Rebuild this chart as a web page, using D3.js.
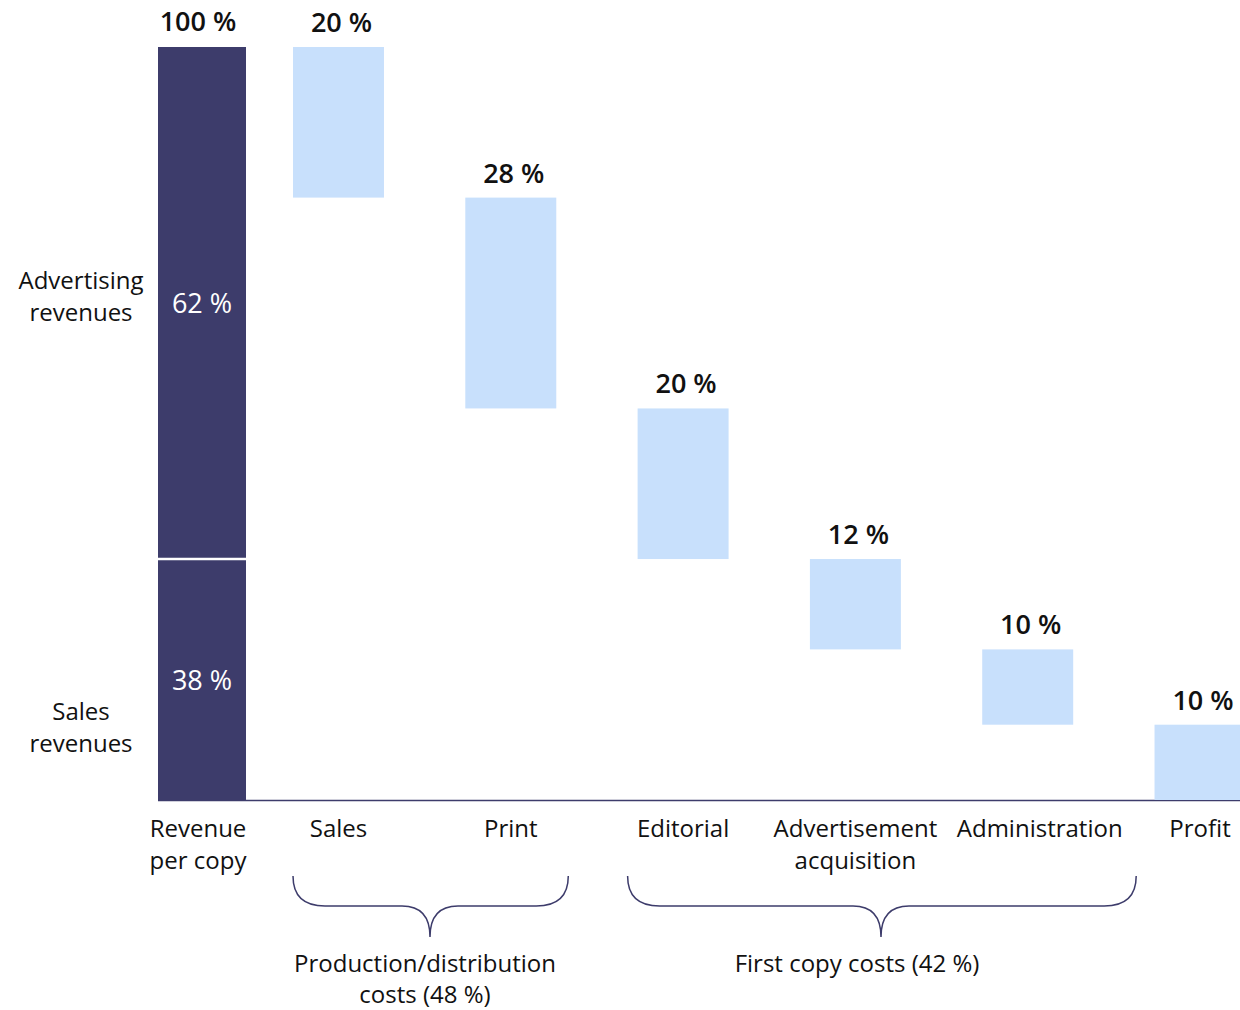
<!DOCTYPE html>
<html>
<head>
<meta charset="utf-8">
<script src="https://cdn.jsdelivr.net/npm/d3@7"></script>
<style>
  html, body { margin: 0; padding: 0; background: #fff; }
  svg { display: block; font-family: "Open Sans", "Noto Sans", sans-serif; }
</style>
</head>
<body>
<svg id="chart" width="1240" height="1010"></svg>
<script>
// ---- data ----
const revenueCategory = "Revenue per copy";
const revenueCategoryLines = ["Revenue", "per copy"];
const revenueTotal = 100;
const revenueTotalLabel = "100 %";
const revenueSegments = ["Sales revenues", "Advertising revenues"];
const revenueSegmentValues = [32, 68];          // heights as drawn in the picture
const revenueSegmentLabels = ["38 %", "62 %"];  // labels as printed
const revenueSegmentNameLines = [["Sales", "revenues"], ["Advertising", "revenues"]];

const categories = ["Sales", "Print", "Editorial", "Advertisement acquisition", "Administration", "Profit"];
const categoryLines = [["Sales"], ["Print"], ["Editorial"], ["Advertisement", "acquisition"], ["Administration"], ["Profit"]];
const values = [20, 28, 20, 12, 10, 10];
const valueLabels = ["20 %", "28 %", "20 %", "12 %", "10 %", "10 %"];

const groupNames = ["Production/distribution costs (48 %)", "First copy costs (42 %)"];
const groupLines = [["Production/distribution", "costs (48 %)"], ["First copy costs (42 %)"]];
const groupFrom = ["Sales", "Editorial"];
const groupTo = ["Print", "Administration"];

// ---- styles ----
const DARK = "#3d3c6b";
const LIGHT = "#c8e0fc";

const svg = d3.select("#chart");

const y = d3.scaleLinear().domain([0, 100]).range([800, 47]);
const xRev = d3.scaleBand().domain([revenueCategory]).range([158, 246]).padding(0);
const x = d3.scaleBand().domain(categories).range([293, 1245.5]).paddingInner(0.472).paddingOuter(0);
const bw = x.bandwidth();

// waterfall computation
let running = revenueTotal;
const bars = categories.map((c, i) => {
  let top, bottom;
  if (i === categories.length - 1) { top = values[i]; bottom = 0; }
  else { top = running; bottom = running - values[i]; running = bottom; }
  return { cat: c, top, bottom, label: valueLabels[i], lines: categoryLines[i] };
});

// axis baseline
svg.append("line")
  .attr("x1", 158).attr("x2", 1240)
  .attr("y1", y(0) + 0.5).attr("y2", y(0) + 0.5)
  .attr("stroke", DARK).attr("stroke-width", 1.5);

// revenue stacked bar
let acc = 0;
const segs = revenueSegmentValues.map((v, i) => {
  const s = { y0: acc, y1: acc + v, label: revenueSegmentLabels[i], names: revenueSegmentNameLines[i] };
  acc += v;
  return s;
});
svg.selectAll("rect.rev").data(segs).join("rect")
  .attr("class", "rev")
  .attr("x", xRev(revenueCategory))
  .attr("width", xRev.bandwidth())
  .attr("y", d => y(d.y1))
  .attr("height", d => y(d.y0) - y(d.y1))
  .attr("fill", DARK);
// white separator
svg.append("line")
  .attr("x1", xRev(revenueCategory)).attr("x2", xRev(revenueCategory) + xRev.bandwidth())
  .attr("y1", y(segs[0].y1)).attr("y2", y(segs[0].y1))
  .attr("stroke", "#fff").attr("stroke-width", 2.5);

// segment labels inside
svg.selectAll("text.seglab").data(segs).join("text")
  .attr("class", "seglab")
  .attr("x", xRev(revenueCategory) + xRev.bandwidth() / 2)
  .attr("y", d => (y(d.y0) + y(d.y1)) / 2 + 10)
  .attr("text-anchor", "middle")
  .attr("fill", "#fff")
  .attr("font-size", 27)
  .text(d => d.label);

// segment names on the left
const nameOffsets = [40, -14];
segs.forEach((d, i) => {
  const cy = (y(d.y0) + y(d.y1)) / 2 + nameOffsets[i];
  const t = svg.append("text")
    .attr("x", 81).attr("text-anchor", "middle")
    .attr("font-size", 24).attr("fill", "#111");
  d.names.forEach((ln, j) => {
    t.append("tspan").attr("x", 81).attr("y", cy + j * 32).text(ln);
  });
});

// revenue total label
svg.append("text")
  .attr("x", xRev(revenueCategory) + xRev.bandwidth() / 2 - 4)
  .attr("y", y(revenueTotal) - 16)
  .attr("text-anchor", "middle")
  .attr("font-size", 27).attr("font-weight", 600).attr("fill", "#111")
  .text(revenueTotalLabel);

// revenue category label
const rt = svg.append("text")
  .attr("text-anchor", "middle").attr("font-size", 24).attr("fill", "#111");
revenueCategoryLines.forEach((ln, j) => {
  rt.append("tspan").attr("x", xRev(revenueCategory) + xRev.bandwidth() / 2 - 4)
    .attr("y", 837 + j * 32).text(ln);
});

// cost bars
svg.selectAll("rect.cost").data(bars).join("rect")
  .attr("class", "cost")
  .attr("x", d => x(d.cat))
  .attr("width", bw)
  .attr("y", d => y(d.top))
  .attr("height", d => y(d.bottom) - y(d.top))
  .attr("fill", LIGHT);

// value labels
svg.selectAll("text.val").data(bars).join("text")
  .attr("class", "val")
  .attr("x", d => x(d.cat) + bw / 2 + 3)
  .attr("y", d => y(d.top) - 15)
  .attr("text-anchor", "middle")
  .attr("font-size", 27).attr("font-weight", 600).attr("fill", "#111")
  .text(d => d.label);

// category labels (small nudge on the long label, as in the reference)
const labelNudge = { "Administration": 12 };
bars.forEach(d => {
  const t = svg.append("text").attr("text-anchor", "middle")
    .attr("font-size", 24).attr("fill", "#111");
  d.lines.forEach((ln, j) => {
    t.append("tspan").attr("x", x(d.cat) + bw / 2 + (labelNudge[d.cat] || 0))
      .attr("y", 837 + j * 32).text(ln);
  });
});

// braces
function brace(x0, x1, xm, yTop, yMid, yTip, r, rt) {
  return `M${x0},${yTop} Q${x0},${yMid} ${x0 + r},${yMid} L${xm - rt},${yMid} ` +
         `Q${xm},${yMid} ${xm},${yTip} Q${xm},${yMid} ${xm + rt},${yMid} ` +
         `L${x1 - r},${yMid} Q${x1},${yMid} ${x1},${yTop}`;
}
const braceExtents = [
  { x0: x(groupFrom[0]), x1: x(groupTo[0]) + bw + 12, xm: 430, tx: 425 },
  { x0: x(groupFrom[1]) - 10, x1: x(groupTo[1]) + bw + 63, xm: 881, tx: 857 }
];
groupNames.forEach((g, i) => {
  const e = braceExtents[i];
  svg.append("path")
    .attr("d", brace(e.x0, e.x1, e.xm, 876, 906, 937, 32, 28))
    .attr("fill", "none").attr("stroke", DARK).attr("stroke-width", 1.5);
  const t = svg.append("text").attr("text-anchor", "middle")
    .attr("font-size", 24).attr("fill", "#111");
  groupLines[i].forEach((ln, j) => {
    t.append("tspan").attr("x", e.tx).attr("y", 972 + j * 31).text(ln);
  });
});
</script>
</body>
</html>
